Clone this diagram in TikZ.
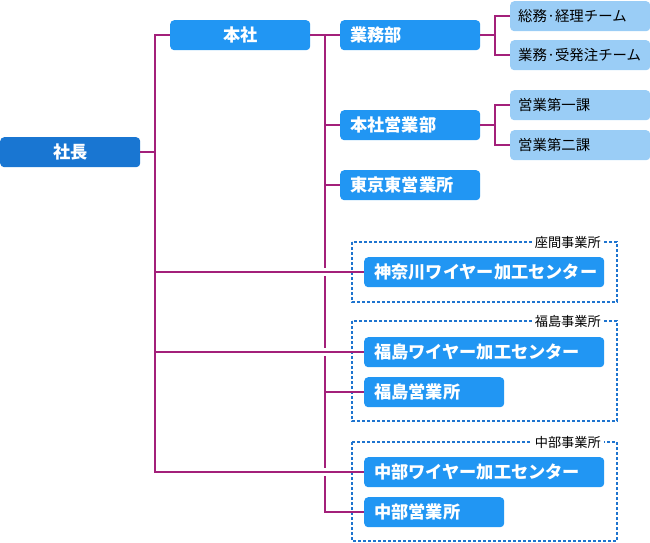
\documentclass[tikz,border=0pt]{standalone}
\usepackage{fontspec}
\setmainfont{Noto Sans CJK JP}
\usepackage{tikz}
\usetikzlibrary{calc}

\definecolor{chief}{HTML}{1976D2}
\definecolor{dept}{HTML}{2196F3}
\definecolor{team}{HTML}{9ACDF6}
\definecolor{wire}{HTML}{A3207A}
\definecolor{site}{HTML}{1E74CF}

\begin{document}
\begin{tikzpicture}[x=1pt, y=-1pt]
                \tikzstyle{unit}=[anchor=north west, rounded corners=4pt, fill=dept, text=white, font=\fontsize{17.2}{17}\selectfont\bfseries, minimum height=30pt, inner xsep=10pt, inner ysep=0pt, align=left]
                \tikzstyle{ctr}=[unit, align=center]
                \tikzstyle{grp}=[unit, fill=team, text=black, inner xsep=8pt, font=\fontsize{14.4}{14}\selectfont]
                \tikzstyle{link}=[draw=wire, line width=2pt]
                \tikzstyle{office}=[draw=site, line width=1.6pt, dash pattern=on 3pt off 2pt]
                \tikzstyle{tag}=[anchor=east, fill=white, inner xsep=3pt, inner ysep=1pt, font=\fontsize{13.2}{13}\selectfont]

                \useasboundingbox (0,0) rectangle (650,543);

                \node[ctr, fill=chief, text width=120pt] (ceo) at (0,137) {社長};
                \node[ctr, text width=120pt] (honsha) at (170,20) {本社};
                \node[unit, text width=120pt] (gyomu) at (340,20) {業務部};
                \node[unit, text width=120pt] (eigyo) at (340,110) {本社営業部};
                \node[unit, text width=120pt] (tokyo) at (340,170) {東京東営業所};
                \node[grp, text width=124pt] (soumu) at (510,1) {総務·経理チーム};
                \node[grp, text width=124pt] (juhatsu) at (510,40) {業務·受発注チーム};
                \node[grp, text width=124pt] (ka1) at (510,90) {営業第一課};
                \node[grp, text width=124pt] (ka2) at (510,130) {営業第二課};

                \draw[office] (352,242) rectangle (617,302);
                \node[tag] at (604,242) {座間事業所};
                \draw[office] (352,321) rectangle (617,421);
                \node[tag] at (604,321) {福島事業所};
                \draw[office] (352,442) rectangle (617,541);
                \node[tag] at (604,442) {中部事業所};

                \node[unit, text width=220pt] (kanagawa) at (364,257) {神奈川ワイヤー加工センター};
                \node[unit, text width=220pt] (fukuw) at (364,337) {福島ワイヤー加工センター};
                \node[unit, text width=120pt] (fukue) at (364,377) {福島営業所};
                \node[unit, text width=220pt] (chubuw) at (364,457) {中部ワイヤー加工センター};
                \node[unit, text width=120pt] (chubue) at (364,497) {中部営業所};

                \coordinate (bus1) at (155,0);
                \coordinate (bus2) at (325,0);
                \coordinate (bus3) at (495,0);

                \draw[link] (honsha.east) -| (chubue.west -| bus2) -- (chubue.west);
                \foreach \n in {gyomu, eigyo, tokyo, fukue}
                    \draw[link] (\n.west -| bus2) -- (\n.west);
                \foreach \n in {kanagawa, fukuw, chubuw}
                    \fill[white] ($(\n.west -| bus2)+(-3,-4)$) rectangle ($(\n.west -| bus2)+(3,4)$);

                \draw[link] (ceo.east) -- (ceo.east -| bus1);
                \draw[link] (honsha.west) -| (chubuw.west -| bus1) -- (chubuw.west);
                \draw[link] (kanagawa.west -| bus1) -- (kanagawa.west);
                \draw[link] (fukuw.west -| bus1) -- (fukuw.west);

                \draw[link] (gyomu.east) -- (gyomu.east -| bus3);
                \draw[link] (soumu.west) -| (juhatsu.west -| bus3) -- (juhatsu.west);
                \draw[link] (eigyo.east) -- (eigyo.east -| bus3);
                \draw[link] (ka1.west) -| (ka2.west -| bus3) -- (ka2.west);
            \end{tikzpicture}
\end{document}
